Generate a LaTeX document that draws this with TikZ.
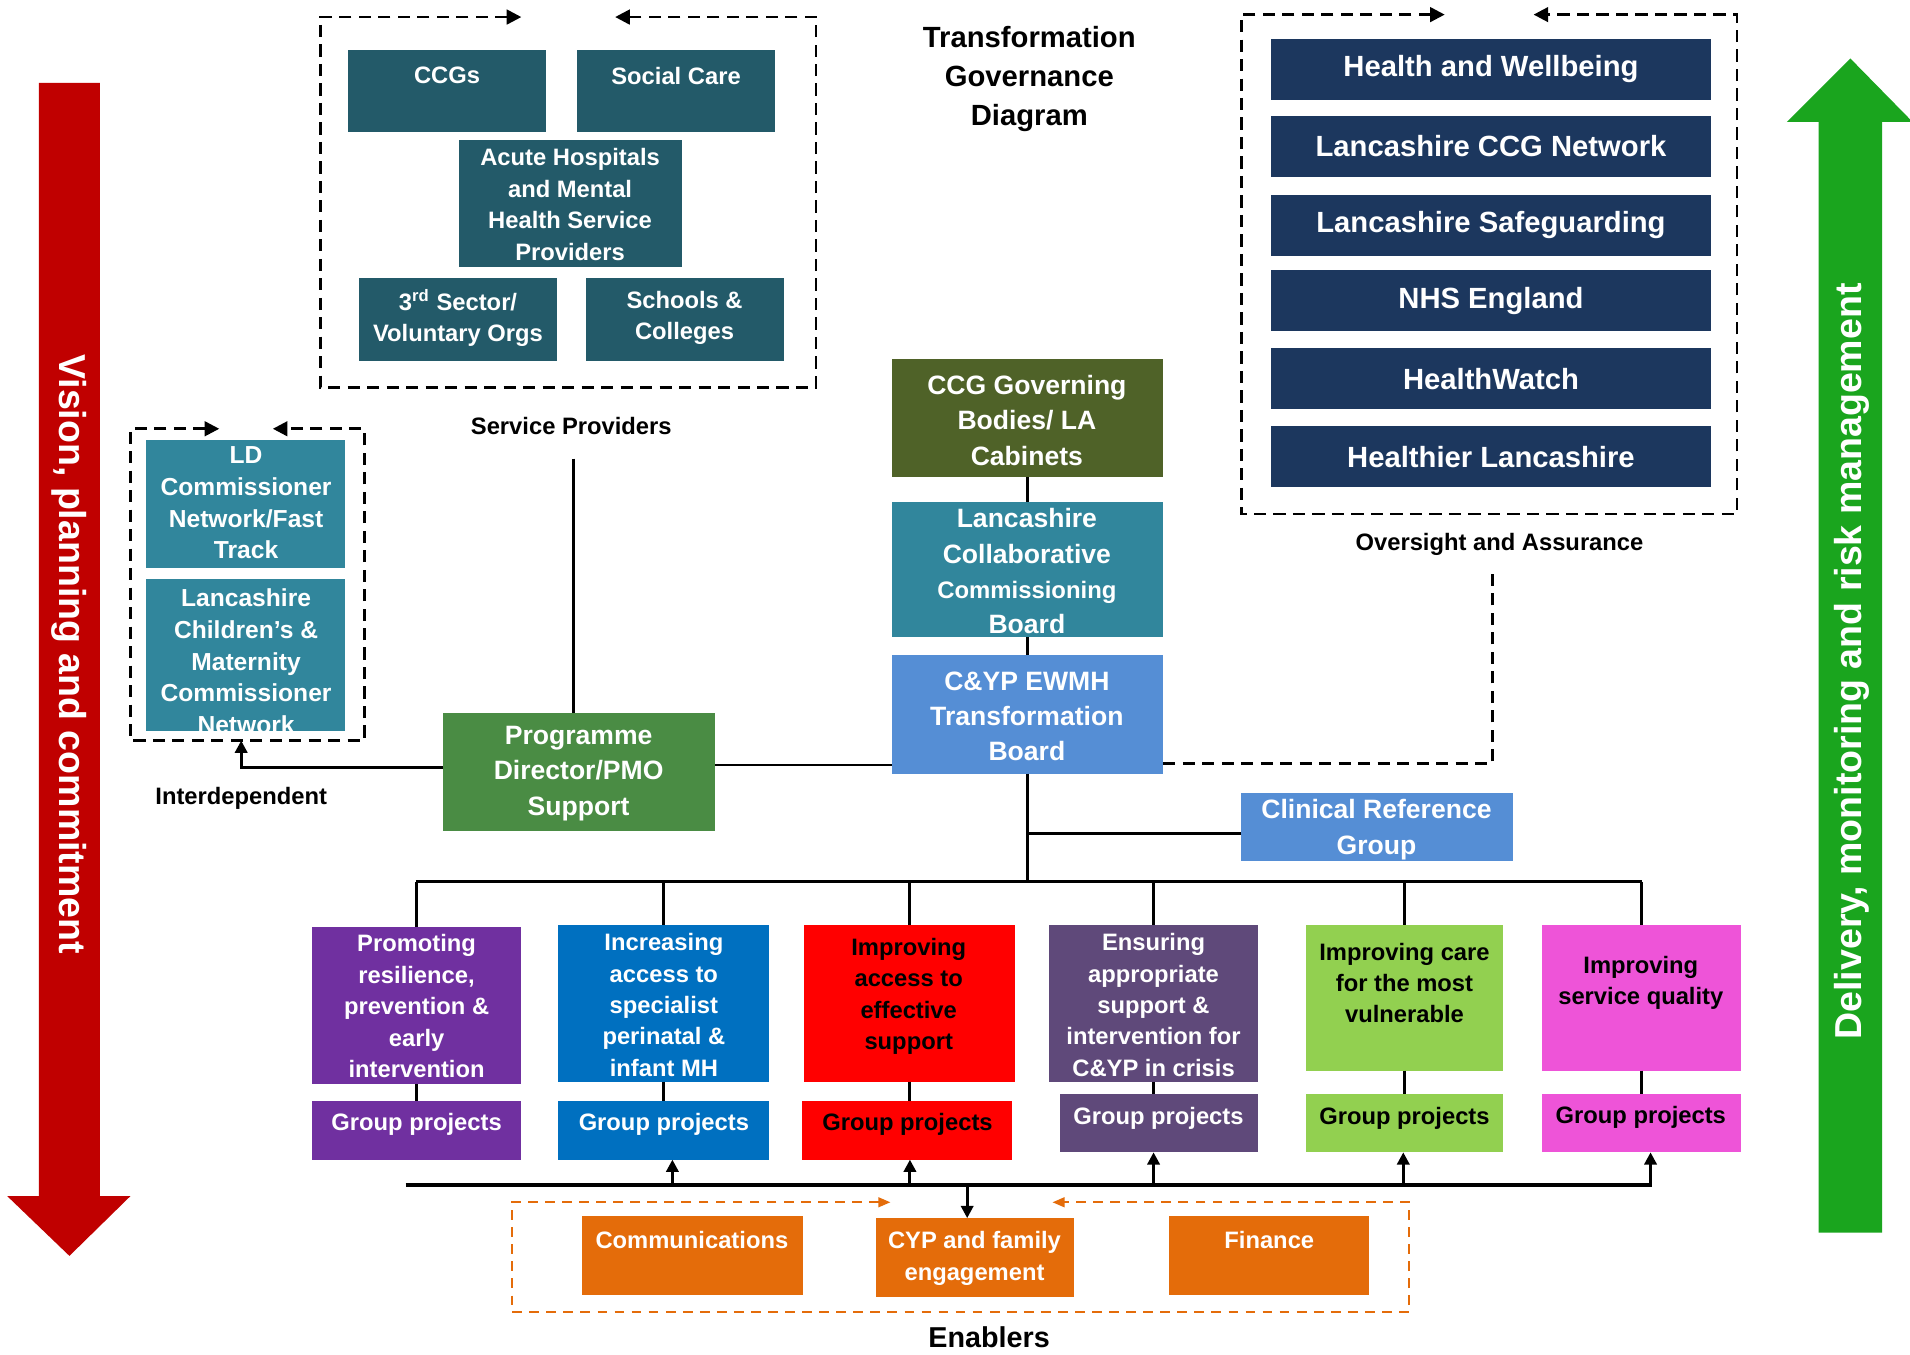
\documentclass[tikz,border=0pt]{standalone}
\usepackage{fontspec}
\setmainfont{Liberation Sans}
\usetikzlibrary{arrows.meta}
\definecolor{spteal}{RGB}{35,90,105}
\definecolor{navy}{RGB}{28,55,94}
\definecolor{ldteal}{RGB}{49,134,156}
\definecolor{govolive}{RGB}{79,98,40}
\definecolor{cypblue}{RGB}{85,142,213}
\definecolor{proggreen}{RGB}{74,140,68}
\definecolor{opurple}{RGB}{112,48,160}
\definecolor{oblue}{RGB}{0,112,192}
\definecolor{ored}{RGB}{255,0,0}
\definecolor{ogrape}{RGB}{95,73,122}
\definecolor{olime}{RGB}{146,208,80}
\definecolor{opink}{RGB}{238,84,216}
\definecolor{enorange}{RGB}{228,108,10}
\definecolor{arrred}{RGB}{192,0,0}
\definecolor{arrgreen}{RGB}{26,165,30}
\newcommand\gbox[6]{\node[gb,fill=#2,minimum width={(#5-#3)*0.5pt},minimum height={(#6-#4)*0.5pt}] (#1) at ({(#3+#5)/2},{(#4+#6)/2}) {};}
\newcommand\gframe[5]{\node[frm,minimum width={#4*0.5pt},minimum height={#5*0.5pt}] (#1) at (#2,#3) {};}
\tikzset{
  gb/.style={draw=none,inner sep=0pt,outer sep=0pt,rectangle},
  frm/.style={draw=none,fill=none,inner sep=0pt,outer sep=0pt,rectangle},
  tw/.style={text=white,align=center,inner sep=0pt,font=\fontsize{9.75}{12.9}\selectfont\bfseries},
  tk/.style={tw,text=black},
  tld/.style={text=white,align=center,inner sep=0pt,font=\fontsize{10.1}{13}\selectfont\bfseries},
  tc/.style={text=white,align=center,inner sep=0pt,font=\fontsize{10.9}{14.5}\selectfont\bfseries},
  tov/.style={text=white,align=center,inner sep=0pt,font=\fontsize{12}{14}\selectfont\bfseries},
  lab/.style={text=black,align=center,inner sep=0pt,font=\fontsize{9.75}{12.9}\selectfont\bfseries},
  ttl/.style={text=black,align=center,inner sep=0pt,font=\fontsize{12}{16}\selectfont\bfseries},
  sidetxt/.style={text=white,inner sep=0pt,font=\fontsize{15.4}{18}\selectfont\bfseries},
  conn/.style={draw=black,line width=1.2pt},
  busln/.style={draw=black,line width=1.8pt},
  dsh/.style={draw=black,line width=1.1pt,dash pattern=on 5pt off 3pt},
  odsh/.style={draw=enorange,line width=0.9pt,dash pattern=on 4pt off 3pt},
  tip/.style={-{Triangle[length=5pt,width=5pt]}},
  ftip/.style={{Triangle[length=6pt,width=6pt]}-{Triangle[length=6pt,width=6pt]}},
  otip/.style={{Triangle[length=5pt,width=4pt]}-{Triangle[length=5pt,width=4pt]}}
}
\begin{document}
\begin{tikzpicture}[x=0.5pt,y=-0.5pt]
\fill[white] (0,0) rectangle (1568,1112);
\useasboundingbox (0,0) rectangle (1568,1112);

% side arrows
\fill[arrred] (32,68) -- (82,68) -- (82,982) -- (107,982) -- (57,1031) -- (6,982) -- (32,982) -- cycle;
\node[sidetxt,rotate=-90] (vision) at (57,537) {Vision, planning and commitment};
\fill[arrgreen] (1493,1012) -- (1545,1012) -- (1545,100) -- (1570,100) -- (1519,48) -- (1467,100) -- (1493,100) -- cycle;
\node[sidetxt,rotate=90] (delivery) at (1520,543) {Delivery, monitoring and risk management};

% title
\node[ttl] (title) at (845,65) {Transformation\\Governance\\Diagram};

% service providers
\gbox{ccgs}{spteal}{286}{41}{448}{108}
\node[tw] (ccgst) at (367,62) {CCGs};
\gbox{socc}{spteal}{474}{41}{636}{108}
\node[tw] (socct) at (555,62) {Social Care};
\gbox{acute}{spteal}{377}{115}{560}{219}
\node[tw] (acutet) at (468,168) {Acute Hospitals\\and Mental\\Health Service\\Providers};
\gbox{third}{spteal}{295}{228}{457}{296}
\node[tw] (thirdt) at (376,261) {3\textsuperscript{rd} Sector/\\Voluntary Orgs};
\gbox{schools}{spteal}{481}{228}{644}{296}
\node[tw] (schoolst) at (562,261) {Schools \&\\Colleges};
\gframe{spf}{466.5}{166}{407}{304}
\draw[dsh,ftip] ([shift={(-38.5,0)}]spf.north) -- (spf.north west) -- (spf.south west) -- (spf.south east) -- (spf.north east) -- ([shift={(38.5,0)}]spf.north);
\node[lab] (splabel) at (469,350) {Service Providers};

% oversight
\gbox{ov1}{navy}{1043}{32}{1405}{82}
\node[tov] (ov1t) at (ov1) {Health and Wellbeing};
\gbox{ov2}{navy}{1043}{95}{1405}{145}
\node[tov] (ov2t) at (ov2) {Lancashire CCG Network};
\gbox{ov3}{navy}{1043}{160}{1405}{210}
\node[tov] (ov3t) at (ov3) {Lancashire Safeguarding};
\gbox{ov4}{navy}{1043}{222}{1405}{272}
\node[tov] (ov4t) at (ov4) {NHS England};
\gbox{ov5}{navy}{1043}{286}{1405}{336}
\node[tov] (ov5t) at (ov5) {HealthWatch};
\gbox{ov6}{navy}{1043}{350}{1405}{400}
\node[tov] (ov6t) at (ov6) {Healthier Lancashire};
\gframe{ovf}{1222.5}{217}{407}{410}
\draw[dsh,ftip] ([shift={(-36.5,0)}]ovf.north) -- (ovf.north west) -- (ovf.south west) -- (ovf.south east) -- (ovf.north east) -- ([shift={(36.5,0)}]ovf.north);
\node[lab] (ovl) at (1231,447) {Oversight and Assurance};

% LD / interdependent
\gbox{ld1}{ldteal}{120}{361}{283}{466}
\node[tld] (ld1t) at (202,413) {LD\\Commissioner\\Network/Fast\\Track};
\gbox{ld2}{ldteal}{120}{475}{283}{600}
\begin{scope}
\clip (ld2.south west) rectangle (ld2.north east);
\node[tld] (ld2t) at (202,543) {Lancashire\\Children’s \&\\Maternity\\Commissioner\\Network};
\end{scope}
\gframe{ldf}{203}{480}{192}{256}
\draw[dsh,ftip] ([shift={(-23,0)}]ldf.north) -- (ldf.north west) -- (ldf.south west) -- (ldf.south east) -- (ldf.north east) -- ([shift={(21,0)}]ldf.north);
\node[lab] (interdep) at (198,655) {Interdependent};

% centre column
\gbox{gov}{govolive}{732}{295}{955}{392}
\node[tc] (govt) at (843,345) {CCG Governing\\Bodies/ LA\\Cabinets};
\gbox{lcc}{ldteal}{732}{412}{955}{523}
\node[tc] (lcct) at (843,469) {Lancashire\\Collaborative\\{\fontsize{9.8}{14.5}\selectfont Commissioning}\\Board};
\gbox{cyp}{cypblue}{732}{538}{955}{635}
\node[tc] (cypt) at (843,588) {C\&YP EWMH\\Transformation\\Board};
\gbox{prog}{proggreen}{364}{585}{587}{682}
\node[tc] (progt) at (475,635) {Programme\\Director/PMO\\Support};
\gbox{crg}{cypblue}{1019}{651}{1242}{707}
\node[tc] (crgt) at (1130,681) {Clinical Reference\\Group};

% outcome boxes
\gbox{o1}{opurple}{256}{761}{428}{890}
\node[tw] (o1t) at (342,826) {Promoting\\resilience,\\prevention \&\\early\\intervention};
\gbox{g1}{opurple}{256}{904}{428}{952}
\node[tw] (g1t) at (342,923) {Group projects};
\gbox{o2}{oblue}{458}{759}{631}{888}
\node[tw] (o2t) at (545,825) {Increasing\\access to\\specialist\\perinatal \&\\infant MH};
\gbox{g2}{oblue}{458}{904}{631}{952}
\node[tw] (g2t) at (545,923) {Group projects};
\gbox{o3}{ored}{660}{759}{833}{888}
\node[tk] (o3t) at (746,818) {Improving\\access to\\effective\\support};
\gbox{g3}{ored}{658}{904}{831}{952}
\node[tk] (g3t) at (745,923) {Group projects};
\gbox{o4}{ogrape}{861}{759}{1033}{888}
\node[tw] (o4t) at (947,825) {Ensuring\\appropriate\\support \&\\intervention for\\C\&YP in crisis};
\gbox{g4}{ogrape}{870}{898}{1033}{946}
\node[tw] (g4t) at (951,918) {Group projects};
\gbox{o5}{olime}{1072}{759}{1234}{879}
\node[tk] (o5t) at (1153,807) {Improving care\\for the most\\vulnerable};
\gbox{g5}{olime}{1072}{898}{1234}{946}
\node[tk] (g5t) at (1153,918) {Group projects};
\gbox{o6}{opink}{1266}{759}{1429}{879}
\node[tk] (o6t) at (1347,807) {Improving\\service quality};
\gbox{g6}{opink}{1266}{898}{1429}{946}
\node[tk] (g6t) at (1347,917) {Group projects};

% enablers
\gbox{comm}{enorange}{478}{998}{659}{1063}
\node[tw] (commt) at (568,1018) {Communications};
\gbox{cypeng}{enorange}{719}{1000}{882}{1065}
\node[tw] (cypengt) at (800,1033) {CYP and family\\engagement};
\gbox{fin}{enorange}{960}{998}{1124}{1063}
\node[tw] (fint) at (1042,1018) {Finance};
\gframe{enf}{788.5}{1032}{737}{90}
\draw[odsh,otip] ([shift={(-57.5,0)}]enf.north) -- (enf.north west) -- (enf.south west) -- (enf.south east) -- (enf.north east) -- ([shift={(75.5,0)}]enf.north);
\node[lab,font=\fontsize{11.8}{14}\selectfont\bfseries] (enl) at (812,1098) {Enablers};

% connectors
\draw[conn] (gov.south) -- (lcc.north);
\draw[conn] (lcc.south) -- (cyp.north);
\draw[conn] ([shift={(2,19)}]splabel.south) -- ([shift={(2,0)}]splabel.south |- prog.north);
\draw[conn,tip] ([shift={(0,-3.5)}]prog.west) -| ([shift={(-5,0)}]ldf.south);
\draw[conn] ([shift={(0,-5.5)}]prog.east) -- ([shift={(0,-5.5)}]prog.east -| cyp.west);
\coordinate (ovc) at ([shift={(-6,11)}]ovl.south);
\draw[dsh] ([shift={(0,-8)}]cyp.south east) -| (ovc);
\coordinate (busy) at (843.5,724);
\draw[conn] (cyp.south) -- (cyp.south |- busy);
\draw[conn] ([shift={(0,5)}]crg.west) -- ([shift={(0,5)}]crg.west -| cyp.south);
\draw[conn] ([shift={(-0.6,0)}]o1.north |- busy) -- ([shift={(0.6,0)}]o6.north |- busy);
\foreach \i in {1,...,6} {\draw[conn] (o\i.north |- busy) -- (o\i.north);}
\foreach \i in {1,...,6} {\draw[conn] (o\i.south) -- (o\i.south |- g\i.north);}
\coordinate (bby) at (0,973);
\draw[busln] ([shift={(-9,0)}]g1.south |- bby) -- ([shift={(8.5,0)}]g6.south |- bby);
\draw[conn,tip] ([shift={(7.5,0)}]g2.south |- bby) -- ([shift={(7.5,0)}]g2.south);
\draw[conn,tip] ([shift={(2.5,0)}]g3.south |- bby) -- ([shift={(2.5,0)}]g3.south);
\draw[conn,tip] ([shift={(-4.5,0)}]g4.south |- bby) -- ([shift={(-4.5,0)}]g4.south);
\draw[conn,tip] ([shift={(-1,0)}]g5.south |- bby) -- ([shift={(-1,0)}]g5.south);
\draw[conn,tip] ([shift={(7.5,0)}]g6.south |- bby) -- ([shift={(7.5,0)}]g6.south);
\draw[conn,tip] ([shift={(-6.5,0)}]cypeng.north |- bby) -- ([shift={(-6.5,0)}]cypeng.north);
\end{tikzpicture}
\end{document}
